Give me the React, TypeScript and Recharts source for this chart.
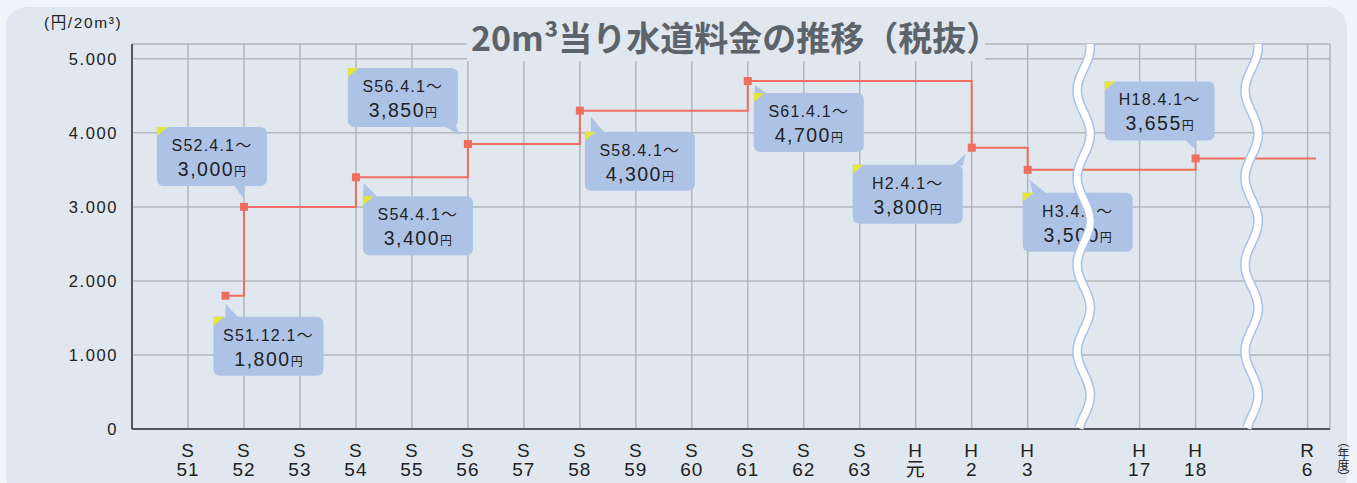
import React from "react";
import { LineChart, Line, XAxis, YAxis, CartesianGrid, ReferenceLine } from "recharts";

// fiscal-year axis: S51 = 1 ... R6 = 21, 17 and 20 are the skipped spans
const tickPositions = [1, 2, 3, 4, 5, 6, 7, 8, 9, 10, 11, 12, 13, 14, 15, 16, 18, 19, 21];
const tickEras = ["S", "S", "S", "S", "S", "S", "S", "S", "S", "S", "S", "S", "S", "H", "H", "H", "H", "H", "R"];
const tickYears = ["51", "52", "53", "54", "55", "56", "57", "58", "59", "60", "61", "62", "63", "元", "2", "3", "17", "18", "6"];
const breakPositions = [17, 20];
const yTicks = [0, 1000, 2000, 3000, 4000, 5000];

// tariff revisions
const revisionPositions = [1.67, 2, 4, 6, 8, 11, 15, 16, 19];
const revisionDates = ["S51.12.1～", "S52.4.1～", "S54.4.1～", "S56.4.1～", "S58.4.1～", "S61.4.1～", "H2.4.1～", "H3.4.1～", "H18.4.1～"];
const revisionPrices = [1800, 3000, 3400, 3850, 4300, 4700, 3800, 3500, 3655];
const lineEndPosition = 21.15;

const chartData = [
  ...revisionPositions.map((x, i) => ({ x, price: revisionPrices[i] })),
  { x: lineEndPosition, price: revisionPrices[revisionPrices.length - 1] },
];

// callout placement relative to each marker
type Callout = { dx: number; dy: number; edge: "top" | "bottom"; base: [number, number]; apex: [number, number] };
const calloutLayout: Callout[] = [
  { dx: -12, dy: 21, edge: "top", base: [12, 25], apex: [0, 8] },
  { dx: -87, dy: -80, edge: "bottom", base: [77, 86], apex: [-1, -9] },
  { dx: 7, dy: 19, edge: "top", base: [0, 15], apex: [8, 6] },
  { dx: -120, dy: -76, edge: "bottom", base: [96, 108], apex: [-8, -9] },
  { dx: 5, dy: 21, edge: "top", base: [6, 20], apex: [11, 6] },
  { dx: 6, dy: 12, edge: "top", base: [1, 14], apex: [7, 4] },
  { dx: -119, dy: 17, edge: "top", base: [100, 110], apex: [-6, 6] },
  { dx: -5, dy: 23, edge: "top", base: [10, 24], apex: [2, 10] },
  { dx: -91, dy: -77, edge: "bottom", base: [80, 91], apex: [0, -9] },
];

const FONT = "'Liberation Sans', Arial, 'Noto Sans CJK JP', sans-serif";
const CJK = "'Noto Sans CJK JP', 'Liberation Sans', sans-serif";
const LINE_COLOR = "#ef6e5d";
const BOX_COLOR = "#adc3e6";
const CARD = "#e0e7ee";
const BOX_W = 110;
const BOX_H = 59;

function boxPath(l: number, t: number, w: number, h: number, r: number) {
  const rr = l + w;
  const b = t + h;
  return `M${l},${t} H${rr - r} Q${rr},${t} ${rr},${t + r} V${b - r} Q${rr},${b} ${rr - r},${b} H${l + r} Q${l},${b} ${l},${b - r} Z`;
}

function renderDot(props: any) {
  const { cx, cy, index } = props;
  if (index >= revisionPrices.length || cx == null || cy == null) return <g key={`dot-${index}`} />;
  const c = calloutLayout[index];
  const l = cx + c.dx;
  const t = cy + c.dy;
  const edgeY = c.edge === "top" ? t + 1 : t + BOX_H - 1;
  const tail = `${l + c.base[0]},${edgeY} ${l + c.base[1]},${edgeY} ${cx + c.apex[0]},${cy + c.apex[1]}`;
  return (
    <g key={`dot-${index}`}>
      <rect x={cx - 4} y={cy - 4} width={8} height={8} fill={LINE_COLOR} />
      <path d={boxPath(l, t, BOX_W, BOX_H, 7)} fill={BOX_COLOR} />
      <polygon points={tail} fill={BOX_COLOR} />
      <polygon points={`${l},${t} ${l + 11},${t} ${l},${t + 9}`} fill="#e6e33c" />
      <text x={l + BOX_W / 2} y={t + 24} textAnchor="middle" fontFamily={FONT} fontSize={16} letterSpacing={1.2} fill="#222">
        {revisionDates[index]}
      </text>
      <text x={l + BOX_W / 2} y={t + 49} textAnchor="middle" fontFamily={FONT} fontSize={19.5} letterSpacing={1.5} fill="#222">
        <tspan>{revisionPrices[index].toLocaleString("en-US")}</tspan>
        <tspan fontFamily={CJK} fontSize={12} letterSpacing={0}>円</tspan>
      </text>
    </g>
  );
}

function XTick(props: any) {
  const { x, y, payload } = props;
  const i = tickPositions.indexOf(payload.value);
  if (i < 0) return <g />;
  return (
    <g>
      <text x={x} y={y + 20} textAnchor="middle" fontFamily={FONT} fontSize={19} letterSpacing={1} fill="#222">
        {tickEras[i]}
      </text>
      <text x={x} y={y + 39} textAnchor="middle" fontFamily={FONT} fontSize={19} letterSpacing={1} fill="#222">
        {tickYears[i]}
      </text>
    </g>
  );
}

function wavePath(x: number, yTop: number, yBottom: number) {
  const amp = 6.5;
  const period = 87;
  const pts: string[] = [];
  for (let y = yTop; y < yBottom; y += 2) {
    pts.push(`${(x + amp * Math.sin((2 * Math.PI * (y - yTop)) / period + 1.35)).toFixed(1)},${y.toFixed(1)}`);
  }
  pts.push(`${(x + amp * Math.sin((2 * Math.PI * (yBottom - yTop)) / period + 1.35)).toFixed(1)},${yBottom.toFixed(1)}`);
  return "M" + pts.join(" L");
}

function WaveBreak(props: any) {
  const { x1, y1, y2 } = props;
  if (x1 == null) return <g />;
  const top = Math.min(y1, y2);
  const bottom = Math.max(y1, y2);
  const d = wavePath(x1, top, bottom - 1);
  return (
    <g>
      <path d={d} fill="none" stroke="#a9c1e7" strokeWidth={10} />
      <path d={d} fill="none" stroke="#ffffff" strokeWidth={7} />
    </g>
  );
}

export default function App() {
  return (
    <div style={{ position: "absolute", left: 0, top: 0, width: 1357, height: 483, background: "#eff5f8", overflow: "hidden" }}>
      <div style={{ position: "absolute", left: 6, top: 7, width: 1341, height: 490, background: CARD, borderRadius: 20 }} />
      <div style={{ position: "absolute", left: 0, top: 0 }}>
        <LineChart width={1357} height={483} data={chartData} margin={{ top: 44, right: 27, bottom: 0, left: 0 }}>
          <CartesianGrid stroke="#b2b7bd" strokeWidth={1.5} />
          <XAxis
            type="number"
            dataKey="x"
            domain={[0, 21.4]}
            ticks={tickPositions}
            interval={0}
            height={54}
            tickLine={false}
            tick={<XTick />}
            axisLine={{ stroke: "#333", strokeWidth: 1.5 }}
          />
          <YAxis
            type="number"
            domain={[0, 5200]}
            ticks={yTicks}
            width={132}
            tickLine={false}
            tickSize={6}
            tickMargin={8}
            axisLine={{ stroke: "#333", strokeWidth: 1.5 }}
            tickFormatter={(v: number) => (v === 0 ? "0" : v.toLocaleString("de-DE"))}
            tick={{ fontFamily: FONT, fontSize: 16.5, fill: "#222", letterSpacing: 1.6 }}
          />
          <Line
            type="stepAfter"
            dataKey="price"
            stroke={LINE_COLOR}
            strokeWidth={2}
            dot={renderDot}
            activeDot={false}
            isAnimationActive={false}
          />
          {breakPositions.map((p) => (
            <ReferenceLine key={p} x={p} shape={(sp: any) => <WaveBreak {...sp} />} zIndex={900} />
          ))}
        </LineChart>
      </div>
      <div style={{ position: "absolute", left: 44, top: 13, fontFamily: FONT, fontSize: 15.5, color: "#222", letterSpacing: 1.6, lineHeight: "20px", whiteSpace: "nowrap" }}>
        (円/20m³)
      </div>
      <div style={{ position: "absolute", left: 467, top: 7, width: 518, height: 54, background: CARD }}>
        <div style={{ position: "absolute", left: 4, top: 13, fontFamily: CJK, fontWeight: 700, fontSize: 34, lineHeight: "34px", color: "#5c636b", whiteSpace: "nowrap" }}>
          20m³当り水道料金の推移（税抜）
        </div>
      </div>
      <div style={{ position: "absolute", left: 1336, top: 435, width: 14, height: 48, fontFamily: CJK, fontSize: 12, lineHeight: "14px", color: "#222", writingMode: "vertical-rl", whiteSpace: "nowrap" }}>
        （年度）
      </div>
    </div>
  );
}
